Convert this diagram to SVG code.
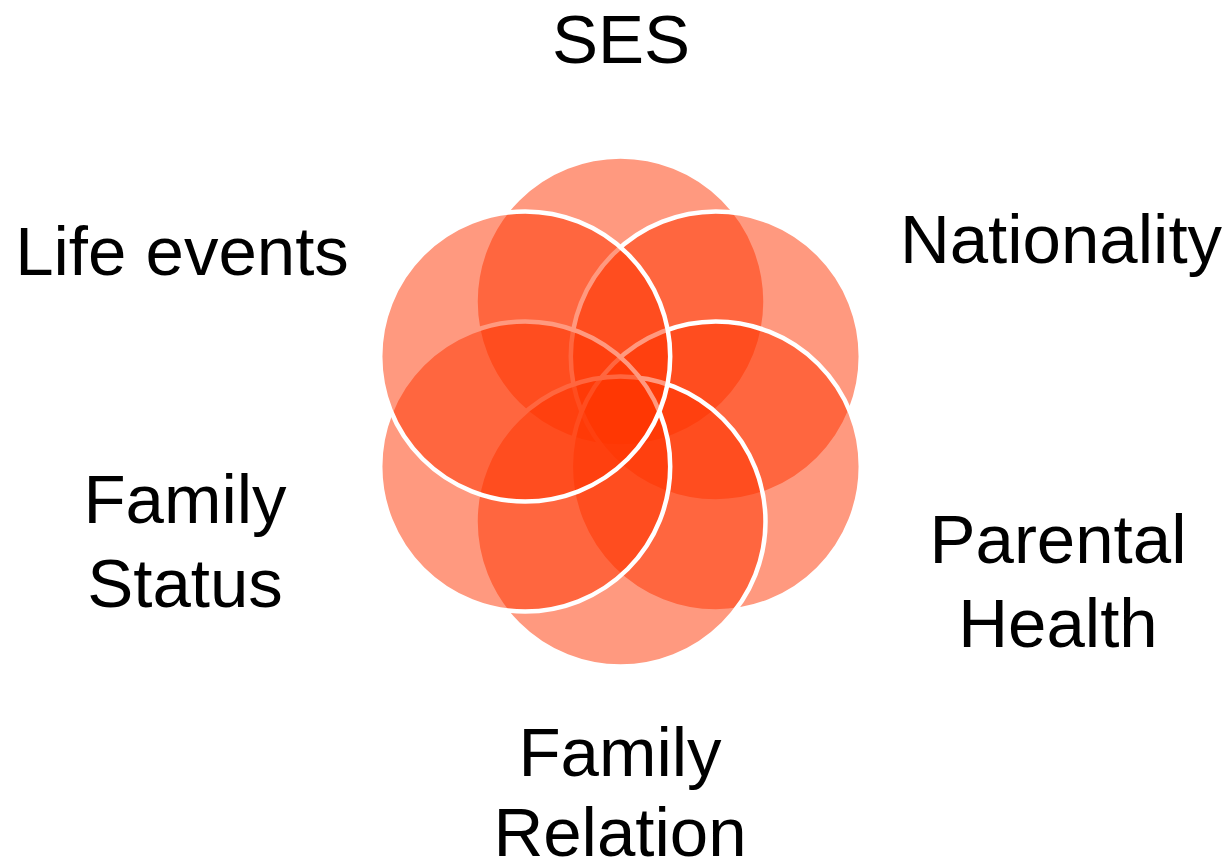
<svg xmlns="http://www.w3.org/2000/svg" width="1227" height="860" viewBox="0 0 1227 860">
<style>
.c{fill:#FF3300;fill-opacity:0.5;stroke:#FFFFFF;stroke-width:4.5}
.t{font-family:"Liberation Sans",Arial,sans-serif;font-size:69px;fill:#000000;text-anchor:middle}
</style>
<rect width="1227" height="860" fill="#FFFFFF"/>
<g id="circles">
<circle id="c-ses" class="c" cx="620.5" cy="301.5" r="145"/>
<circle id="c-nationality" class="c" cx="715.8" cy="356.5" r="145"/>
<circle id="c-parental" class="c" cx="715.8" cy="466.5" r="145"/>
<circle id="c-relation" class="c" cx="620.5" cy="521.5" r="145"/>
<circle id="c-status" class="c" cx="525.2" cy="466.5" r="145"/>
<circle id="c-life" class="c" cx="525.2" cy="356.5" r="145"/>
</g>
<g id="label-ses"><text class="t" x="621" y="63">SES</text></g>
<g id="label-life"><text class="t" x="182" y="275">Life events</text></g>
<g id="label-nationality"><text class="t" x="1061" y="263">Nationality</text></g>
<g id="label-status"><text class="t" x="185" y="523">Family</text><text class="t" x="185" y="607">Status</text></g>
<g id="label-parental"><text class="t" x="1058" y="563">Parental</text><text class="t" x="1058" y="647">Health</text></g>
<g id="label-relation"><text class="t" x="620" y="776">Family</text><text class="t" x="620" y="856">Relation</text></g>
<g id="connectors"></g>
</svg>
